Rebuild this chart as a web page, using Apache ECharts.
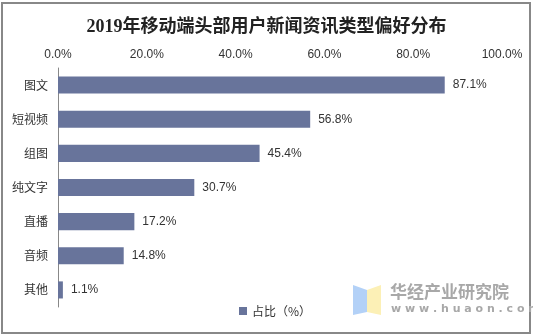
<!DOCTYPE html>
<html>
<head>
<meta charset="utf-8">
<script src="https://cdn.jsdelivr.net/npm/echarts@6/dist/echarts.min.js"></script>
<style>
  html, body { margin: 0; padding: 0; background: #fff; }
  #chart { width: 533px; height: 336px; }
</style>
</head>
<body>
<div id="chart"></div>
<script>
// News content type preference among top mobile users, 2019
const titleText = '2019年移动端头部用户新闻资讯类型偏好分布';
const categories = ['图文', '短视频', '组图', '纯文字', '直播', '音频', '其他'];
const shareValues = [87.1, 56.8, 45.4, 30.7, 17.2, 14.8, 1.1];
const seriesName = '占比（%）';
const axisTicks = [0, 20, 40, 60, 80, 100];

const barColor = '#68749b';
const textColor = '#333';

const chart = echarts.init(document.getElementById('chart'));
chart.setOption({
  animation: false,
  backgroundColor: '#fff',
  title: {
    text: titleText,
    left: 'center',
    top: 13,
    textStyle: {
      fontFamily: '"Liberation Serif", "Noto Sans CJK SC", serif',
      fontWeight: 'bold',
      fontSize: 18,
      color: '#222'
    }
  },
  legend: {
    data: [seriesName],
    left: 234,
    top: 300,
    itemWidth: 8,
    itemHeight: 8,
    itemGap: 4,
    icon: 'rect',
    textStyle: { fontSize: 12, color: textColor, fontFamily: '"Noto Sans CJK SC", sans-serif' }
  },
  grid: { left: 58, right: 31, top: 68, bottom: 29, containLabel: false },
  xAxis: {
    type: 'value',
    position: 'top',
    min: axisTicks[0],
    max: axisTicks[axisTicks.length - 1],
    interval: axisTicks[1] - axisTicks[0],
    axisLine: { show: false },
    axisTick: { show: false },
    splitLine: { show: false },
    axisLabel: {
      margin: 7,
      color: textColor,
      fontSize: 12,
      fontFamily: '"Liberation Sans", Arial, sans-serif',
      formatter: v => v.toFixed(1) + '%'
    }
  },
  yAxis: {
    type: 'category',
    inverse: true,
    data: categories,
    axisLine: { show: true, lineStyle: { color: '#888', width: 1 } },
    axisTick: { show: false },
    axisLabel: {
      margin: 10,
      color: textColor,
      fontSize: 12,
      fontFamily: '"Noto Sans CJK SC", sans-serif'
    }
  },
  series: [{
    name: seriesName,
    type: 'bar',
    data: shareValues,
    barCategoryGap: '50%',
    itemStyle: { color: barColor },
    label: {
      show: true,
      position: 'right',
      distance: 8,
      color: textColor,
      fontSize: 12,
      fontFamily: '"Liberation Sans", Arial, sans-serif',
      formatter: p => p.value.toFixed(1) + '%'
    }
  }],
  graphic: [
    {
      type: 'rect',
      shape: { x: 2, y: 3, width: 528, height: 330 },
      style: { fill: 'none', stroke: '#888', lineWidth: 2 },
      silent: true
    },
    {
      type: 'polygon',
      shape: { points: [[353, 285], [367, 290], [367, 312], [353, 315]] },
      style: { fill: '#b3d1f7' },
      silent: true
    },
    {
      type: 'polygon',
      shape: { points: [[367, 290], [381, 285], [381, 315], [367, 312]] },
      style: { fill: '#fcf0b6' },
      silent: true
    },
    {
      type: 'text',
      left: 390,
      top: 283,
      style: {
        text: '华经产业研究院',
        fill: '#a8a8a8',
        font: 'bold 17px "Noto Sans CJK SC", sans-serif'
      },
      silent: true
    },
    {
      type: 'text',
      left: 391,
      top: 304,
      style: {
        text: 'w w w . h u a o n . c o m',
        fill: '#a8a8a8',
        font: 'bold 11px "DejaVu Sans", sans-serif'
      },
      silent: true
    }
  ]
});
</script>
</body>
</html>
